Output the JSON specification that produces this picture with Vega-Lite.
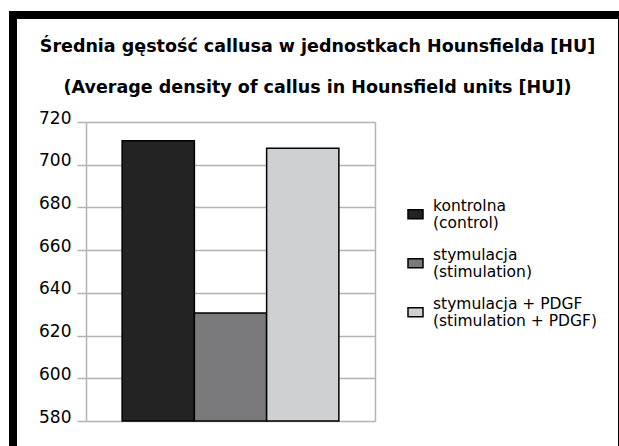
{
  "$schema": "https://vega.github.io/schema/vega-lite/v6.json",
  "width": 609,
  "height": 440,
  "autosize": {"type": "none"},
  "padding": {"left": 13, "top": 15, "right": 0, "bottom": 0},
  "background": "white",
  "config": {
    "view": {"stroke": "black", "strokeWidth": 8, "fill": "white"},
    "font": "DejaVu Sans"
  },
  "title": {
    "text": ["Średnia gęstość callusa w jednostkach Hounsfielda [HU]", "(Average density of callus in Hounsfield units [HU])"],
    "font": "DejaVu Sans",
    "fontWeight": "bold",
    "fontSize": 17.5,
    "lineHeight": 41,
    "anchor": "middle",
    "frame": "group",
    "baseline": "top",
    "offset": -81,
    "color": "black"
  },
  "data": {
    "values": [
      {"group": "all", "series": "kontrolna|(control)", "value": 711.2},
      {"group": "all", "series": "stymulacja|(stimulation)", "value": 630.6},
      {"group": "all", "series": "stymulacja + PDGF|(stimulation + PDGF)", "value": 707.7}
    ]
  },
  "mark": {"type": "bar", "stroke": "black", "strokeWidth": 1.5},
  "encoding": {
    "x": {
      "field": "group",
      "type": "nominal",
      "scale": {"range": [73, 362], "paddingInner": 0, "paddingOuter": 0},
      "axis": {
        "orient": "top",
        "labels": false,
        "title": null,
        "domain": false,
        "ticks": false,
        "tickBand": "extent",
        "grid": true,
        "gridColor": "#b3b3b3",
        "gridWidth": 1.5
      }
    },
    "xOffset": {
      "field": "series",
      "type": "nominal",
      "sort": null,
      "scale": {"paddingInner": 0, "paddingOuter": 0.5}
    },
    "y": {
      "field": "value",
      "type": "quantitative",
      "scale": {"domain": [580, 720], "range": [406, 107], "nice": false, "zero": false},
      "axis": {
        "offset": -73,
        "values": [580, 600, 620, 640, 660, 680, 700, 720],
        "domain": false,
        "title": null,
        "tickColor": "#b3b3b3",
        "tickWidth": 1.5,
        "tickSize": 9,
        "labelFontSize": 17,
        "labelColor": "black",
        "labelPadding": 6,
        "labelOffset": -4,
        "grid": true,
        "gridColor": "#b3b3b3",
        "gridWidth": 1.5
      }
    },
    "y2": {"datum": 580},
    "fill": {
      "field": "series",
      "type": "nominal",
      "sort": null,
      "scale": {
        "domain": ["kontrolna|(control)", "stymulacja|(stimulation)", "stymulacja + PDGF|(stimulation + PDGF)"],
        "range": ["#232323", "#7a7a7c", "#cfd0d2"]
      },
      "legend": {
        "orient": "none",
        "legendX": 394,
        "legendY": 182,
        "title": null,
        "padding": 0,
        "labelExpr": "split(datum.label, '|')",
        "labelFontSize": 15.5,
        "labelColor": "black",
        "labelFont": "DejaVu Sans",
        "labelLimit": 0,
        "labelOffset": 9,
        "rowPadding": 14,
        "symbolType": "M-1,0.57H1V1.77H-1Z",
        "symbolSize": 225,
        "symbolStrokeColor": "black",
        "symbolStrokeWidth": 1.5
      }
    }
  }
}
